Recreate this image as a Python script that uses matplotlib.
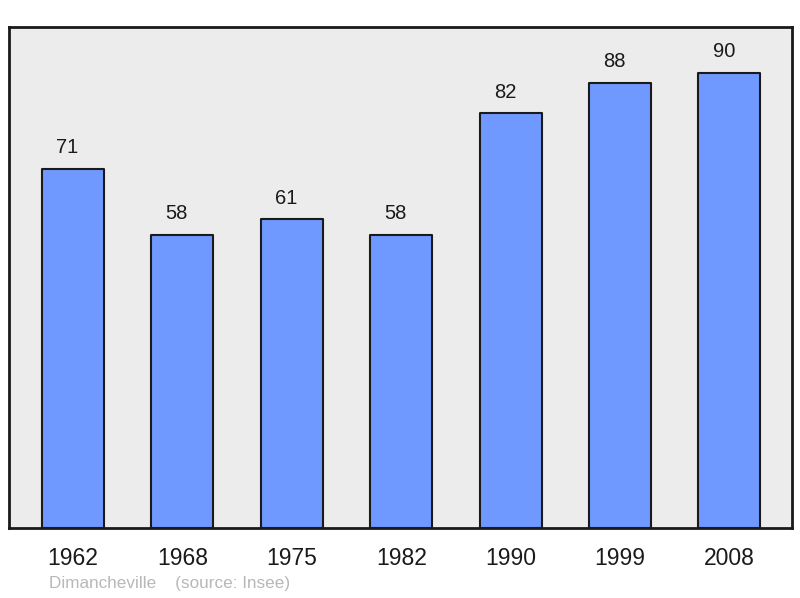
import matplotlib.pyplot as plt

years = ['1962', '1968', '1975', '1982', '1990', '1999', '2008']
population = [71, 58, 61, 58, 82, 88, 90]

plt.rcParams['font.family'] = ['Liberation Sans', 'DejaVu Sans']

fig = plt.figure(figsize=(8, 5.98), dpi=100)
ax = fig.add_axes([0.01125, 0.117, 0.97875, 0.8378])
ax.set_facecolor('#ececec')

x = list(range(len(years)))
bars = ax.bar(x, population, width=0.567, color='#7099ff', edgecolor='#1a1a1a',
              linewidth=1.5, joinstyle='round', zorder=2)

# value labels above each bar (sit a little left of centre, as in the original)
for xi, v in zip(x, population):
    ax.annotate(str(v), (xi, v), xytext=(-4, 15), textcoords='offset points',
                ha='center', va='center', fontsize=14.5, color='#1a1a1a')

ax.set_xlim(-0.585, 6.572)
ax.set_ylim(0, 99)
ax.set_yticks([])
ax.set_xticks(x)
ax.set_xticklabels(years, fontsize=16.5, color='#1a1a1a')
ax.tick_params(axis='x', length=0, pad=14)

for s in ax.spines.values():
    s.set_linewidth(2)
    s.set_color('#1a1a1a')
    s.set_joinstyle('round')

fig.text(0.061, 0.0235, 'Dimancheville    (source: Insee)', fontsize=12.3,
         color='#b8b8b8', ha='left', va='center')

fig.savefig('out.png', dpi=100)
